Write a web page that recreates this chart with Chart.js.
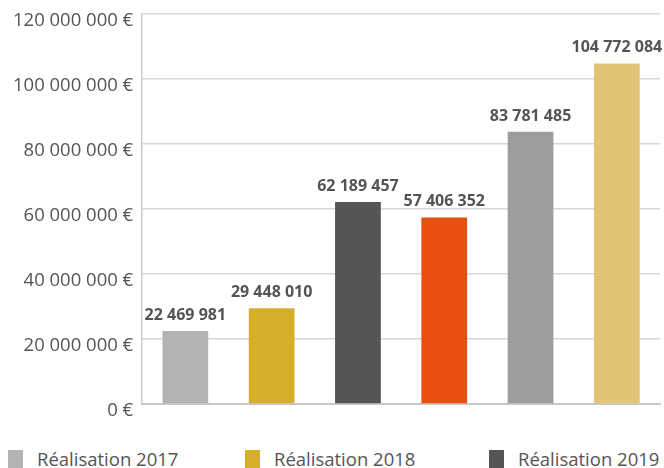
<!DOCTYPE html>
<html lang="fr">
<head>
<meta charset="utf-8">
<title>Réalisations</title>
<script src="https://cdn.jsdelivr.net/npm/chart.js@4/dist/chart.umd.min.js"></script>
<style>
  html, body { margin: 0; padding: 0; background: #fff; overflow: hidden; }
  #wrap { position: absolute; left: 0; top: 0; width: 664px; height: 440px; }
  .legBox { position: absolute; top: 450px; width: 15px; height: 20px; }
  .legText { position: absolute; top: 447px; font: 18.5px "Open Sans", sans-serif; line-height: 24px; color: #555; white-space: nowrap; }
</style>
</head>
<body>
<div id="wrap"><canvas id="graphique"></canvas></div>
<div id="legende"></div>

<script>
// Données
const valeurs = [22469981, 29448010, 62189457, 57406352, 83781485, 104772084];
const couleurs = ['#b3b3b3', '#d5ae2c', '#555553', '#e94f10', '#9d9d9b', '#e2c574'];
const legendeLabels = ['Réalisation 2017', 'Réalisation 2018', 'Réalisation 2019'];
const categories = valeurs.map((v, i) => legendeLabels[i] || '');
const ticksY = [0, 20000000, 40000000, 60000000, 80000000, 100000000, 120000000];

// 22469981 -> "22 469 981"
function formatNombre(n) {
  return String(Math.round(n)).replace(/\B(?=(\d{3})+(?!\d))/g, ' ');
}

// Etiquettes au-dessus des barres
const etiquettesBarres = {
  id: 'etiquettesBarres',
  afterDatasetsDraw(chart) {
    const ctx = chart.ctx;
    const meta = chart.getDatasetMeta(0);
    ctx.save();
    ctx.font = 'bold 16px "Open Sans", sans-serif';
    ctx.fillStyle = '#545454';
    ctx.textAlign = 'center';
    ctx.textBaseline = 'alphabetic';
    meta.data.forEach((bar, i) => {
      ctx.fillText(formatNombre(valeurs[i]), bar.x, bar.y - 11);
    });
    ctx.restore();
  }
};

// Légende (seule la première ligne est visible)
const positionsLegende = [8, 245, 489];
const legende = document.getElementById('legende');
legendeLabels.forEach((txt, i) => {
  const box = document.createElement('span');
  box.className = 'legBox';
  box.style.left = positionsLegende[i] + 'px';
  box.style.background = couleurs[i];
  legende.appendChild(box);
  const t = document.createElement('span');
  t.className = 'legText';
  t.style.left = (positionsLegende[i] + 29) + 'px';
  t.innerText = txt;
  legende.appendChild(t);
});

const ctx = document.getElementById('graphique').getContext('2d');
new Chart(ctx, {
  type: 'bar',
  data: {
    labels: categories,
    datasets: [{
      data: valeurs,
      backgroundColor: couleurs,
      borderWidth: 0,
      categoryPercentage: 1,
      barPercentage: 0.53
    }]
  },
  options: {
    responsive: true,
    maintainAspectRatio: false,
    animation: false,
    layout: { padding: { left: 4, right: 4, top: 14, bottom: 28 } },
    plugins: {
      legend: { display: false },
      tooltip: { enabled: false }
    },
    scales: {
      x: {
        ticks: { display: false },
        grid: { display: false },
        border: { display: true, color: '#c9c9c9', width: 2 }
      },
      y: {
        min: 0,
        max: ticksY[ticksY.length - 1],
        afterBuildTicks: (scale) => { scale.ticks = ticksY.map(v => ({ value: v })); },
        afterFit: (scale) => { scale.paddingTop = 0; scale.paddingBottom = 0; },
        ticks: {
          padding: 9,
          labelOffset: 7,
          color: '#555',
          font: { family: '"Open Sans", sans-serif', size: 18.5 },
          callback: (v) => formatNombre(v) + ' €'
        },
        grid: { color: '#d6d6d6', lineWidth: 1.5, drawTicks: false },
        border: { display: true, color: '#cccccc', width: 1.5 }
      }
    }
  },
  plugins: [etiquettesBarres]
});
</script>
</body>
</html>
